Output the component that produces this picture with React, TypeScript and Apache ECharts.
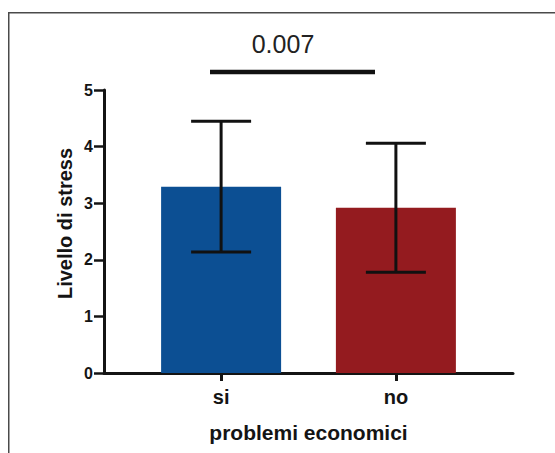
import React, { useEffect, useRef } from "react";
import * as echarts from "echarts";

// ---- data ----
const categories = ["si", "no"];
const catPositions = [1, 2];
const means = [3.29, 2.92];
const errLow = [2.14, 1.78];
const errHigh = [4.45, 4.06];
const barColors = ["#0c4f93", "#941b1f"];
const yTickMin = 0;
const yTickMax = 5;
const yTickStep = 1;
const pValueLabel = "0.007";
const yAxisTitle = "Livello di stress";
const xAxisTitle = "problemi economici";

const FONT = "'Liberation Sans', Arial, Helvetica, sans-serif";
const INK = "#141414";

export default function App() {
  const ref = useRef<HTMLDivElement | null>(null);

  useEffect(() => {
    if (!ref.current) return;
    const chart = echarts.init(ref.current, null, { renderer: "svg" });

    const barData = categories.map((c, i) => ({
      name: c,
      value: [catPositions[i], means[i]],
      itemStyle: { color: barColors[i] },
    }));
    const errData = categories.map((c, i) => [catPositions[i], errLow[i], errHigh[i]]);

    const option: any = {
      animation: false,
      backgroundColor: "#ffffff",
      grid: { left: 104, top: 90, width: 409, height: 283, containLabel: false },
      xAxis: {
        type: "value",
        min: 0.33,
        max: 2.67,
        splitLine: { show: false },
        axisLine: { show: true, lineStyle: { color: INK, width: 3 } },
        axisTick: {
          show: true,
          customValues: catPositions,
          length: 8,
          lineStyle: { color: INK, width: 3 },
        },
        axisLabel: {
          show: true,
          customValues: catPositions,
          formatter: (v: number) => {
            const idx = catPositions.indexOf(Math.round(v));
            return idx >= 0 ? categories[idx] : "";
          },
          margin: 14,
          color: INK,
          fontFamily: FONT,
          fontWeight: "bold",
          fontSize: 20,
        },
        name: xAxisTitle,
        nameLocation: "middle",
        nameGap: 49,
        nameTextStyle: { color: INK, fontFamily: FONT, fontWeight: "bold", fontSize: 21 },
      },
      yAxis: {
        type: "value",
        min: yTickMin,
        max: yTickMax,
        interval: yTickStep,
        splitLine: { show: false },
        axisLine: { show: true, lineStyle: { color: INK, width: 3 } },
        axisTick: { show: true, length: 10, lineStyle: { color: INK, width: 2.5 } },
        axisLabel: {
          margin: 11,
          color: INK,
          fontFamily: FONT,
          fontWeight: "bold",
          fontSize: 16,
        },
      },
      series: [
        {
          type: "bar",
          data: barData,
          barWidth: 120,
          z: 2,
        },
        {
          type: "custom",
          data: errData,
          encode: { x: 0, y: [1, 2] },
          z: 5,
          renderItem: (params: any, api: any) => {
            const x = api.value(0);
            const lo = api.value(1);
            const hi = api.value(2);
            const pHi = api.coord([x, hi]);
            const pLo = api.coord([x, lo]);
            const half = 30;
            const st = { stroke: "#111111", lineWidth: 3 };
            return {
              type: "group",
              children: [
                { type: "line", shape: { x1: pHi[0], y1: pHi[1], x2: pLo[0], y2: pLo[1] }, style: st },
                { type: "line", shape: { x1: pHi[0] - half, y1: pHi[1], x2: pHi[0] + half, y2: pHi[1] }, style: st },
                { type: "line", shape: { x1: pLo[0] - half, y1: pLo[1], x2: pLo[0] + half, y2: pLo[1] }, style: st },
              ],
            };
          },
        },
      ],
      graphic: [
        {
          type: "rect",
          z: -1,
          shape: { x: 8.75, y: 12.75, width: 700, height: 600 },
          style: { fill: "transparent", stroke: "#4a4a4a", lineWidth: 1.5 },
        },
        {
          type: "line",
          shape: { x1: 210, y1: 72, x2: 375, y2: 72 },
          style: { stroke: "#111111", lineWidth: 4.5 },
        },
        {
          type: "text",
          x: 283,
          y: 44,
          style: {
            text: pValueLabel,
            fill: "#222222",
            font: `25px ${FONT}`,
            align: "center",
            verticalAlign: "middle",
          },
        },
        {
          type: "text",
          x: 65,
          y: 223.5,
          rotation: Math.PI / 2,
          style: {
            text: yAxisTitle,
            fill: INK,
            font: `bold 20px ${FONT}`,
            align: "center",
            verticalAlign: "middle",
          },
        },
      ],
    };

    chart.setOption(option);
    return () => chart.dispose();
  }, []);

  return (
    <div
      ref={ref}
      style={{ position: "fixed", left: 0, top: 0, width: 555, height: 453, background: "#fff" }}
    />
  );
}
